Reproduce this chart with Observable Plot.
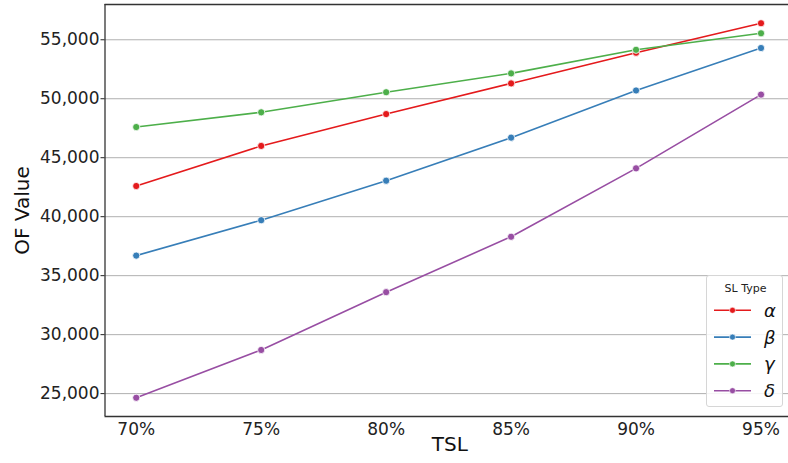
<!DOCTYPE html>
<html><head><meta charset="utf-8">
<script src="https://cdn.jsdelivr.net/npm/d3@7"></script>
<script src="https://cdn.jsdelivr.net/npm/@observablehq/plot@0.6"></script>
<style>
body{margin:0;background:#fff;font-family:"DejaVu Sans",sans-serif;}
#chart{position:relative;width:788px;height:463px;overflow:hidden;}
#legend{position:absolute;left:706px;top:275px;width:77px;height:132px;box-sizing:border-box;border:1px solid #d6d6d6;border-radius:3px;background:rgba(255,255,255,0.85);}
#legend svg{position:absolute;left:0;top:0;overflow:visible;}
</style></head><body><div id="chart"></div>
<script>
const tsl = [70, 75, 80, 85, 90, 95];
const seriesNames = ["α", "β", "γ", "δ"];
const seriesColors = ["#e41a1c", "#377eb8", "#4daf4a", "#984ea3"];
const alphaValues = [42600, 46000, 48700, 51300, 53900, 56400];
const betaValues = [36700, 39700, 43050, 46700, 50700, 54300];
const gammaValues = [47600, 48850, 50550, 52150, 54150, 55550];
const deltaValues = [24650, 28700, 33600, 38300, 44100, 50350];
const yTicks = [25000, 30000, 35000, 40000, 45000, 50000, 55000];
const legendTitle = "SL Type";

const allValues = [alphaValues, betaValues, gammaValues, deltaValues];
const rows = [];
seriesNames.forEach((s, i) => tsl.forEach((t, j) => rows.push({tsl: t, value: allValues[i][j], type: s})));

const xDomain = [68.75, 96.1];
const yDomain = [23060, 57990];
const fmt = d3.format(",");

const plot = Plot.plot({
  width: 788,
  height: 463,
  marginLeft: 104.5,
  marginRight: 0,
  marginTop: 4,
  marginBottom: 47,
  style: {fontFamily: "DejaVu Sans, sans-serif", background: "#fff", color: "#222"},
  x: {domain: xDomain, ticks: tsl, tickFormat: d => d + "%", label: null},
  y: {domain: yDomain, ticks: yTicks, tickFormat: fmt, label: null},
  color: {domain: seriesNames, range: seriesColors},
  marks: [
    Plot.gridY(yTicks, {stroke: "#b0b0b0", strokeOpacity: 1, strokeWidth: 1}),
    Plot.axisX({ticks: tsl, tickFormat: d => d + "%", tickSize: 0, tickPadding: 6, fontSize: 17, label: null, stroke: "#222"}),
    Plot.axisY({ticks: yTicks, tickFormat: fmt, tickSize: 4, tickPadding: 1.5, fontSize: 17, label: null, stroke: "#222"}),
    Plot.lineY(rows, {x: "tsl", y: "value", z: "type", stroke: "type", strokeWidth: 1.6}),
    Plot.dot(rows, {x: "tsl", y: "value", fill: "type", stroke: "white", strokeWidth: 0.8, r: 3.6}),
    Plot.ruleX([xDomain[0]], {stroke: "#222", strokeWidth: 1.2}),
    Plot.ruleY([yDomain[0], yDomain[1]], {stroke: "#333", strokeWidth: 1.3}),
    Plot.text(["OF Value"], {frameAnchor: "left", textAnchor: "middle", dx: -82, rotate: -90, fontSize: 20, fill: "#111"}),
    Plot.text(["TSL"], {frameAnchor: "bottom", dy: 34, dx: 3, fontSize: 20, fill: "#111"})
  ]
});

const chart = document.getElementById("chart");
chart.appendChild(plot);

// legend
const leg = document.createElement("div");
leg.id = "legend";
chart.appendChild(leg);
const lsvg = d3.select(leg).append("svg").attr("width", 77).attr("height", 132);
lsvg.append("text").attr("x", 38.5).attr("y", 12).attr("text-anchor", "middle")
  .attr("dominant-baseline", "central").attr("font-size", 11).attr("fill", "#222")
  .attr("font-family", "DejaVu Sans, sans-serif").text(legendTitle);
seriesNames.forEach((s, i) => {
  const cy = 34.3 + i * 26.8;
  const g = lsvg.append("g");
  g.append("line").attr("x1", 7).attr("x2", 44).attr("y1", cy).attr("y2", cy)
    .attr("stroke", seriesColors[i]).attr("stroke-width", 1.6);
  g.append("circle").attr("cx", 25.5).attr("cy", cy).attr("r", 3).attr("fill", seriesColors[i])
    .attr("stroke", "white").attr("stroke-width", 0.6);
  g.append("text").attr("x", 57).attr("y", cy).attr("dominant-baseline", "central")
    .attr("font-size", 18).attr("font-style", "italic").attr("fill", "#111")
    .attr("font-family", "DejaVu Sans, sans-serif").text(s);
});
</script></body></html>
